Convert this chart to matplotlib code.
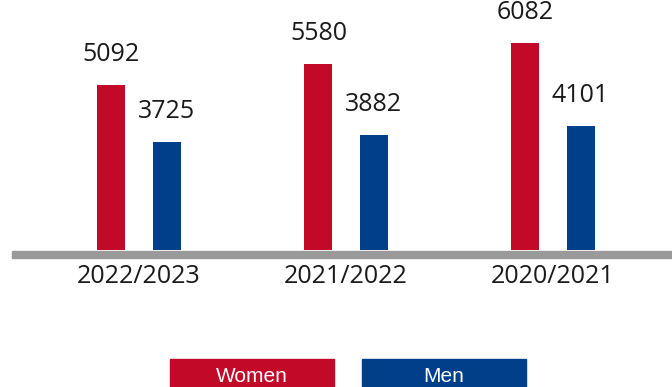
import matplotlib
matplotlib.use("Agg")
import matplotlib.pyplot as plt
from matplotlib.patches import Rectangle
import numpy as np

categories = ["2022/2023", "2021/2022", "2020/2021"]
women = [5092, 5580, 6082]
men = [3725, 3882, 4101]
series_names = ["Women", "Men"]

RED = "#c20a28"
BLUE = "#023f8a"
GRAY = "#9a9a9a"

W, H = 672, 387
fig = plt.figure(figsize=(W / 100, H / 100), dpi=100)
ax = fig.add_axes([0, (H - 250) / H, 1, 250 / H])

x = np.arange(len(categories))
bw = 0.135
off = 0.133
ax.bar(x - off, women, bw, color=RED)
ax.bar(x + off, men, bw, color=BLUE)

ax.set_xlim(-139 / 207, (W - 139) / 207)
ax.set_ylim(1140, 7115)
ax.axis("off")

font = "Open Sans"
for xi, v in zip(x - off, women):
    ax.annotate(str(v), (xi, v), xytext=(0, 22), textcoords="offset points",
                ha="center", va="center", fontsize=18, family=font, color="#1a1a1a")
for xi, v in zip(x + off, men):
    ax.annotate(str(v), (xi, v), xytext=(0, 22), textcoords="offset points",
                ha="center", va="center", fontsize=18, family=font, color="#1a1a1a")

for xi, c in zip(x, categories):
    ax.text(xi, -0.105, c, transform=ax.get_xaxis_transform(), ha="center",
            va="center", fontsize=18, family=font, color="#1a1a1a")

# baseline
fig.patches.append(Rectangle((12 / W, (H - 258) / H), (W - 12) / W, 7 / H,
                             transform=fig.transFigure, color=GRAY, zorder=5))

# legend boxes
for (x0, x1), name, col in zip([(170, 334), (362, 526)], series_names, [RED, BLUE]):
    fig.patches.append(Rectangle((x0 / W, 0), (x1 - x0) / W, (H - 359) / H,
                                 transform=fig.transFigure, color=col))
    fig.text((x0 + x1) / 2 / W, (H - 377) / H, name, ha="center", va="center",
             color="white", fontsize=15, family="Liberation Sans")

fig.savefig("out.png", dpi=100)
